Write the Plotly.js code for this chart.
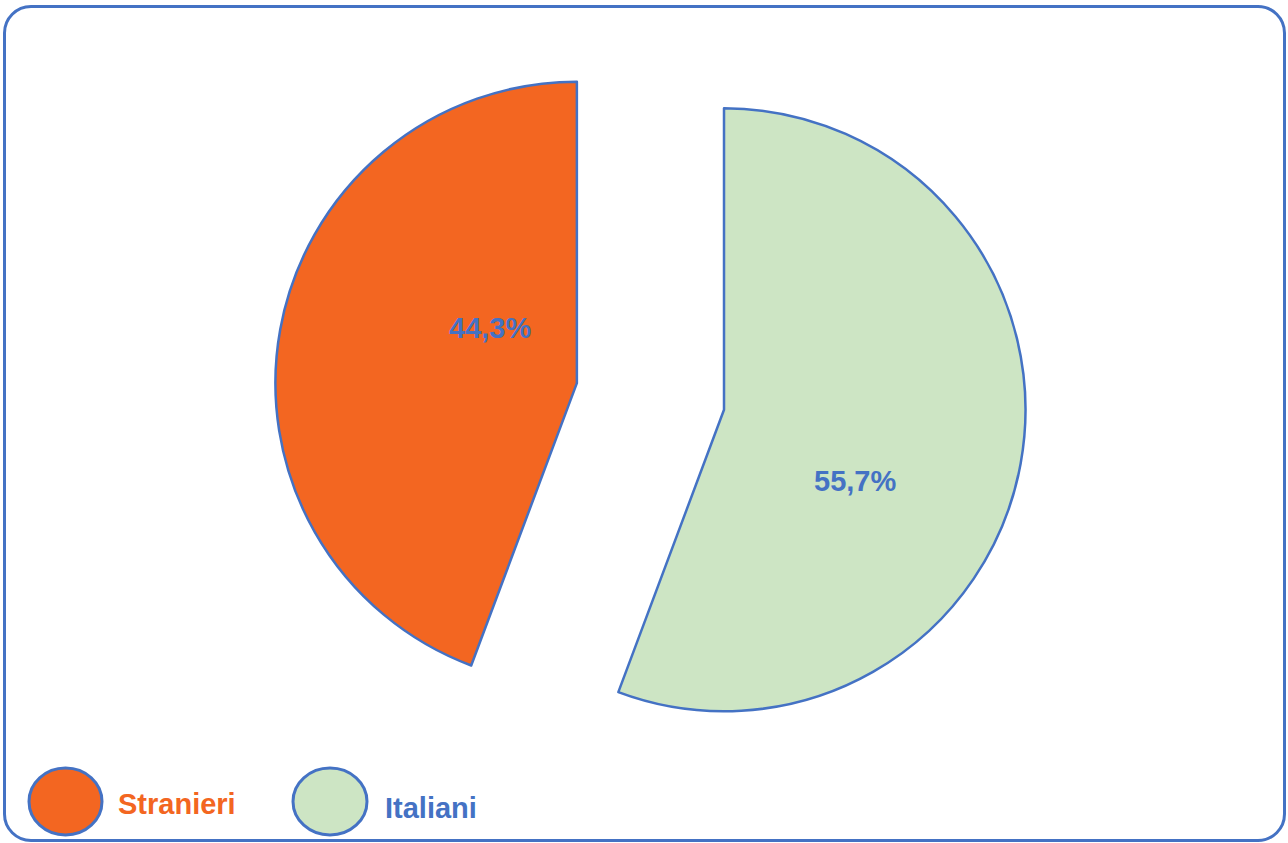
<!DOCTYPE html>
<html>
<head>
<meta charset="utf-8">
<script src="https://cdn.plot.ly/plotly-3.0.1.min.js"></script>
<style>
  html, body { margin: 0; padding: 0; background: #ffffff; }
  #chart { width: 1288px; height: 843px; position: relative; }
  #frame { position: absolute; left: 3px; top: 5px; width: 1283px; height: 837px;
           box-sizing: border-box; border: 3px solid #4472C4; border-radius: 28px;
           pointer-events: none; z-index: 10; }
</style>
</head>
<body>
<div id="chart"></div>
<div id="frame"></div>
<script>
// Data
const labels = ["Stranieri", "Italiani"];
const values = [44.3, 55.7];
const sliceColors = ["#F36621", "#CDE5C4"];
const legendTextColors = ["#F36621", "#4472C4"];

const outline = "#4472C4";
const font = "Liberation Sans, Arial, sans-serif";

const total = values.reduce((a, b) => a + b, 0);
const pctText = values.map(v => (v / total * 100).toFixed(1).replace(".", ",") + "%");

const trace = {
  type: "pie",
  labels: labels,
  values: values,
  sort: false,
  direction: "clockwise",
  rotation: 360 * values[1] / total,
  pull: [0.248, 0.248],
  marker: { colors: sliceColors, line: { color: outline, width: 2.5 } },
  textinfo: "none",
  hoverinfo: "label+percent",
  showlegend: false,
  domain: { x: [0.2, 0.81], y: [0.0834, 0.976] }
};

const shapes = [];
const annotations = [];
// Slice value labels
const valueLabelPos = [[490, 328], [855, 481]];
pctText.forEach((t, i) => {
  annotations.push({
    xref: "paper", yref: "paper",
    x: valueLabelPos[i][0] / 1288, y: 1 - valueLabelPos[i][1] / 843,
    xanchor: "center", yanchor: "middle", showarrow: false,
    text: "<b>" + t + "</b>",
    font: { family: font, size: 29, color: outline }
  });
});
// Legend drawn as ellipses + text
const legendX = [[29, 102], [293, 367]];
const legendTextX = [116, 383];
labels.forEach((lab, i) => {
  shapes.push({
    type: "circle", xref: "paper", yref: "paper",
    x0: legendX[i][0] / 1288, x1: legendX[i][1] / 1288,
    y0: 1 - 835 / 843, y1: 1 - 768 / 843,
    fillcolor: sliceColors[i], line: { color: outline, width: 3 }
  });
  annotations.push({
    xref: "paper", yref: "paper",
    x: legendTextX[i] / 1288, y: 1 - (804 + i * 4) / 843,
    xanchor: "left", yanchor: "middle", showarrow: false,
    text: "<b>" + lab + "</b>",
    font: { family: font, size: 29, color: legendTextColors[i] }
  });
});

const layout = {
  width: 1288, height: 843,
  margin: { l: 0, r: 0, t: 0, b: 0 },
  paper_bgcolor: "#ffffff",
  separators: ",.",
  showlegend: false,
  shapes: shapes,
  annotations: annotations
};

Plotly.newPlot("chart", [trace], layout, { displayModeBar: false, staticPlot: true });
</script>
</body>
</html>
